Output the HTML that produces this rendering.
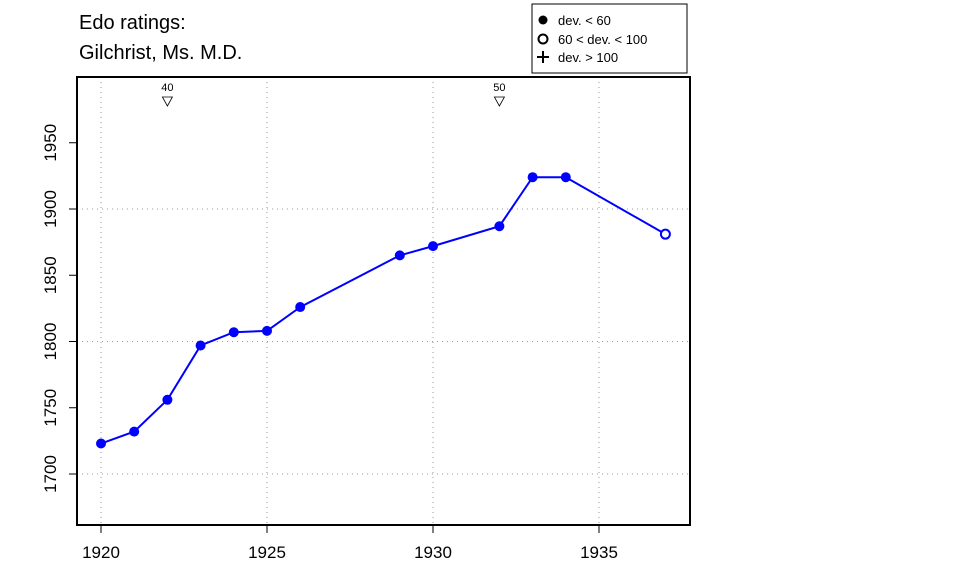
<!DOCTYPE html>
<html><head><meta charset="utf-8"><style>body{margin:0;background:#fff}svg{display:block;font-family:"Liberation Sans",Arial,sans-serif}</style></head>
<body>
<svg id="chart" width="960" height="576" viewBox="0 0 960 576">
<text x="79" y="29" font-size="20">Edo ratings:</text>
<text x="79" y="59" font-size="20">Gilchrist, Ms. M.D.</text>
<g>
<rect x="532" y="4" width="155" height="69" fill="#fff" stroke="#000" stroke-width="1"/>
<circle cx="543" cy="20" r="4.5" fill="#000"/>
<text x="558" y="25" font-size="13">dev. &lt; 60</text>
<circle cx="543" cy="39" r="4.5" fill="none" stroke="#000" stroke-width="2"/>
<text x="558" y="44" font-size="13">60 &lt; dev. &lt; 100</text>
<path d="M537 57h12M543 51v12" stroke="#000" stroke-width="2"/>
<text x="558" y="62" font-size="13">dev. &gt; 100</text>
</g>
<g id="grid"></g><g id="axes"></g><g id="marks"></g>
<rect x="77" y="77" width="613" height="448" fill="none" stroke="#000" stroke-width="2"/>
</svg>
<script>
const years=[1920,1921,1922,1923,1924,1925,1926,1929,1930,1932,1933,1934,1937];
const ratings=[1723,1732,1756,1797,1807,1808,1826,1865,1872,1887,1924,1924,1881];
const devClass=[0,0,0,0,0,0,0,0,0,0,0,0,1];
const xTicks=[1920,1925,1930,1935];
const yTicks=[1700,1750,1800,1850,1900,1950];
const yGrid=[1700,1800,1900];
const milestoneYears=[1922,1932];
const milestoneLabels=["40","50"];
const NS="http://www.w3.org/2000/svg";
const xs=v=>101+(v-1920)*33.2;
const ys=v=>474-(v-1700)*1.325;
function mk(t,a,p){const e=document.createElementNS(NS,t);for(const k in a)e.setAttribute(k,a[k]);p.appendChild(e);return e;}
const grid=document.getElementById('grid'),axes=document.getElementById('axes'),marks=document.getElementById('marks');
xTicks.forEach(v=>{
const l=mk('line',{x1:xs(v),x2:xs(v),y1:77,y2:525,stroke:'#999','stroke-dasharray':'1,4'},grid);


const t=mk('line',{x1:xs(v),x2:xs(v),y1:525,y2:533,stroke:'#000'},axes);


const tx=mk('text',{x:xs(v),y:558,'font-size':17,'text-anchor':'middle'},axes);tx.textContent=v;


});
yGrid.forEach(v=>{
const l=mk('line',{x1:77,x2:690,y1:ys(v),y2:ys(v),stroke:'#999','stroke-dasharray':'1,4'},grid);


});
yTicks.forEach(v=>{
const t=mk('line',{x1:69,x2:77,y1:ys(v),y2:ys(v),stroke:'#000'},axes);


const tx=mk('text',{x:0,y:0,'font-size':17,'text-anchor':'middle',transform:`translate(56,${ys(v)}) rotate(-90)`},axes);tx.textContent=v;


});
milestoneYears.forEach((v,i)=>{
const x=xs(v);
const p=mk('path',{d:`M${x-5} 97L${x+5} 97L${x} 106Z`,fill:'none',stroke:'#000','stroke-width':0.8},marks);


const t=mk('text',{x:x,y:91,'font-size':11,'text-anchor':'middle'},marks);t.textContent=milestoneLabels[i];


});
const line=mk('polyline',{points:years.map((y,i)=>xs(y)+','+ys(ratings[i])).join(' '),fill:'none',stroke:'#0000ff','stroke-width':2},marks);


years.forEach((y,i)=>{
const c=devClass[i]===0?mk('circle',{cx:xs(y),cy:ys(ratings[i]),r:5,fill:'#0000ff'},marks):mk('circle',{cx:xs(y),cy:ys(ratings[i]),r:4.5,fill:'#fff',stroke:'#0000ff','stroke-width':2},marks);


});
</script>
</body></html>
